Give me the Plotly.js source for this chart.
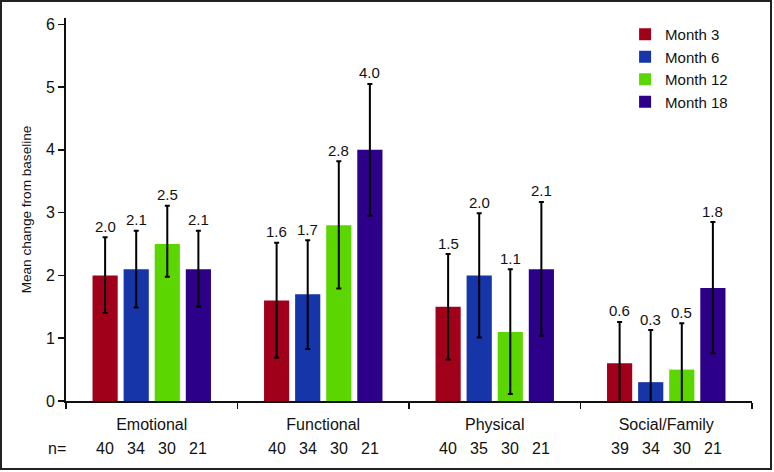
<!DOCTYPE html>
<html>
<head>
<meta charset="utf-8">
<script src="https://cdn.plot.ly/plotly-3.0.1.min.js"></script>
<style>
  html, body { margin: 0; padding: 0; background: #fff; }
  #wrap { position: relative; width: 774px; height: 472px; }
  #chart { position: absolute; left: 0; top: 0; width: 774px; height: 472px; }
  #frame { position: absolute; left: 0; top: 0; width: 772px; height: 470px;
           box-sizing: border-box; border: 2px solid #222; pointer-events: none; }
</style>
</head>
<body>
<div id="wrap">
  <div id="chart"></div>
  <div id="frame"></div>
</div>
<script>
// ---- data ----
const categories = ['Emotional', 'Functional', 'Physical', 'Social/Family'];
const seriesNames = ['Month 3', 'Month 6', 'Month 12', 'Month 18'];

const month3  = [2.0, 1.6, 1.5, 0.6];
const month6  = [2.1, 1.7, 2.0, 0.3];
const month12 = [2.5, 2.8, 1.1, 0.5];
const month18 = [2.1, 4.0, 2.1, 1.8];

const errUp3  = [0.61, 0.92, 0.84, 0.66];
const errUp6  = [0.61, 0.86, 0.99, 0.83];
const errUp12 = [0.61, 1.02, 1.00, 0.74];
const errUp18 = [0.61, 1.05, 1.07, 1.05];

const errDn3  = [0.60, 0.91, 0.84, 0.66];
const errDn6  = [0.61, 0.87, 0.99, 0.83];
const errDn12 = [0.52, 1.01, 0.99, 0.74];
const errDn18 = [0.60, 1.05, 1.06, 1.04];

const n3  = [40, 40, 40, 39];
const n6  = [34, 34, 35, 34];
const n12 = [30, 30, 30, 30];
const n18 = [21, 21, 21, 21];

const valueLabels = [
  ['2.0', '1.6', '1.5', '0.6'],
  ['2.1', '1.7', '2.0', '0.3'],
  ['2.5', '2.8', '1.1', '0.5'],
  ['2.1', '4.0', '2.1', '1.8']
];

// ---- styling ----
const colors = ['#A1001B', '#1535A8', '#5CD600', '#2D008A'];
const FONT = '"Liberation Sans", Arial, Helvetica, sans-serif';

const means = [month3, month6, month12, month18];
const ups = [errUp3, errUp6, errUp12, errUp18];
const dns = [errDn3, errDn6, errDn12, errDn18];
const ns = [n3, n6, n12, n18];

const bargap = 0.275;
const bargroupgap = 0.19;

const traces = seriesNames.map((name, j) => ({
  type: 'bar',
  name: name,
  x: categories,
  y: means[j],
  marker: { color: colors[j], line: { width: 0 } },
  error_y: {
    type: 'data', symmetric: false,
    array: ups[j], arrayminus: dns[j],
    color: '#000', thickness: 2, width: 2.5
  },
  hoverinfo: 'skip'
}));

// positions of grouped bars relative to each category (derived from bargap)
const nSeries = seriesNames.length;
const groupW = 1 - bargap;
const slotW = groupW / nSeries;
const offsets = seriesNames.map((_, j) => -groupW / 2 + (j + 0.5) * slotW);

const annotations = [];
categories.forEach((c, i) => {
  seriesNames.forEach((s, j) => {
    annotations.push({
      x: i + offsets[j], y: means[j][i] + ups[j][i],
      xref: 'x', yref: 'y',
      text: valueLabels[j][i], showarrow: false,
      yanchor: 'middle', yshift: 11,
      font: { family: FONT, size: 15, color: '#111' }
    });
    annotations.push({
      x: i + offsets[j], y: 0,
      xref: 'x', yref: 'paper',
      text: String(ns[j][i]), showarrow: false,
      yanchor: 'middle', yshift: -47,
      font: { family: FONT, size: 16, color: '#111' }
    });
  });
});
annotations.push({
  x: 0, y: 0, xref: 'paper', yref: 'paper',
  text: 'n=', showarrow: false, xanchor: 'right', xshift: 2,
  yanchor: 'middle', yshift: -47,
  font: { family: FONT, size: 16, color: '#111' }
});

const layout = {
  width: 774, height: 472,
  margin: { l: 66, r: 22, t: 18, b: 71 },
  paper_bgcolor: '#fff', plot_bgcolor: '#fff',
  barmode: 'group', bargap: bargap, bargroupgap: bargroupgap,
  font: { family: FONT, size: 16, color: '#111' },
  showlegend: true,
  legend: {
    x: 0.815, y: 1.0, xanchor: 'left', yanchor: 'top',
    font: { family: FONT, size: 15, color: '#111' },
    bgcolor: 'rgba(0,0,0,0)', borderwidth: 0
  },
  xaxis: {
    type: 'category',
    range: [-0.5, 3.5],
    showline: true, linecolor: '#111', linewidth: 2,
    ticks: 'outside', tickson: 'boundaries', ticklen: 6, tickwidth: 1.5, tickcolor: '#111',
    ticklabelstandoff: 8,
    showgrid: false, zeroline: false,
    tickfont: { family: FONT, size: 16, color: '#111' }
  },
  yaxis: {
    range: [0, 6.1], dtick: 1, tick0: 0,
    showline: true, linecolor: '#111', linewidth: 2,
    ticks: 'outside', ticklen: 6, tickwidth: 1.5, tickcolor: '#111',
    showgrid: false, zeroline: false,
    tickfont: { family: FONT, size: 16, color: '#111' },
    title: { text: 'Mean change from baseline', font: { family: FONT, size: 13.6, color: '#111' }, standoff: 11 }
  },
  annotations: annotations
};

Plotly.newPlot('chart', traces, layout, { displayModeBar: false, staticPlot: true });
</script>
</body>
</html>
